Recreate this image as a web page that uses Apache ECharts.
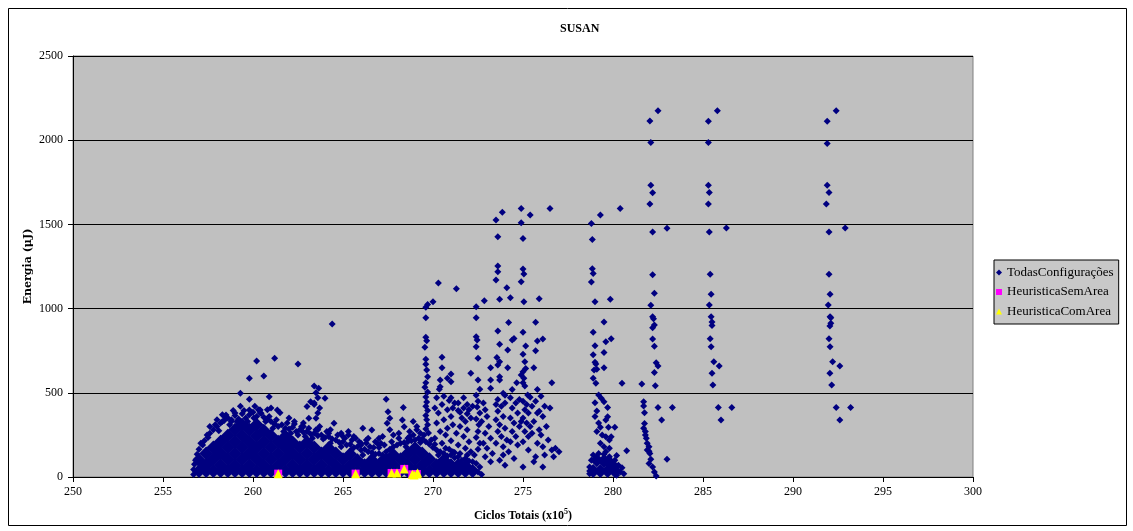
<!DOCTYPE html>
<html>
<head>
<meta charset="utf-8">
<script src="https://cdn.jsdelivr.net/npm/echarts@6/dist/echarts.min.js"></script>
<style>
html,body{margin:0;padding:0;background:#fff;}
#chart{width:1133px;height:531px;}
</style>
</head>
<body>
<div id="chart"></div>
<script>
// ---- data ----
const chartTitle = 'SUSAN';
const seriesNames = ['TodasConfigurações', 'HeuristicaSemArea', 'HeuristicaComArea'];

// dense core of the configuration cloud (drawn with larger marks)
const todasNucleo = [
[257.0,35],[257.0,100],
[257.4,35],[257.4,70],[257.4,140],
[257.8,35],[257.8,105],[257.8,175],
[258.2,35],[258.2,70],[258.2,140],[258.2,210],
[258.6,35],[258.6,105],[258.6,175],[258.6,245],
[259.0,35],[259.0,70],[259.0,140],[259.0,210],[259.0,280],
[259.4,35],[259.4,105],[259.4,175],[259.4,245],[259.4,310],
[259.8,35],[259.8,70],[259.8,140],[259.8,210],[259.8,280],
[260.2,35],[260.2,105],[260.2,175],[260.2,245],[260.2,310],
[260.6,35],[260.6,70],[260.6,140],[260.6,210],[260.6,275],
[261.0,35],[261.0,105],[261.0,175],[261.0,245],
[261.4,35],[261.4,70],[261.4,140],[261.4,210],
[261.8,35],[261.8,105],[261.8,175],[261.8,240],
[262.2,35],[262.2,70],[262.2,140],[262.2,205],
[262.6,35],[262.6,105],[262.6,175],
[263.0,35],[263.0,70],[263.0,140],[263.0,205],
[263.4,35],[263.4,105],[263.4,175],
[263.8,35],[263.8,70],[263.8,140],
[264.2,35],[264.2,105],[264.2,170],
[264.6,35],[264.6,70],[264.6,140],
[265.0,35],[265.0,105],
[265.4,35],[265.4,70],[265.4,135],
[265.8,35],[265.8,100],
[266.2,35],[266.2,70],
[266.6,35],[266.6,100],
[267.0,35],[267.0,70],
[267.4,35],[267.4,100],
[267.8,35],[267.8,70],[267.8,130],
[268.2,35],[268.2,105],
[268.6,35],[268.6,70],[268.6,140],
[269.0,35],[269.0,105],[269.0,170],
[269.4,35],[269.4,70],[269.4,140],
[269.8,35],[269.8,105],
[270.2,35],[270.2,70],
[270.6,35],[270.6,100],
[271.0,35],[271.0,70],
[271.4,35],[271.4,70],
[271.8,35],[271.8,65],
[272.2,35],
[278.9,35],[279.3,35],[279.7,35],[280.1,35],[279.1,100],[279.5,95],[279.9,75]
];

// individual configurations around the edge of the cloud
const todasBorda = [
[256.7,15],[256.7,45],[256.75,75],[256.85,105],[256.9,135],[257.0,165],[257.2,190],[257.3,215],
[257.5,235],[257.6,260],[257.8,280],[258.0,300],[258.2,320],[258.4,335],[258.6,350],[258.8,330],
[259.0,365],[259.2,345],[259.4,375],[259.6,350],[259.8,370],[260.0,385],[260.2,360],[260.4,380],
[260.6,355],[260.8,340],[261.0,330],[261.2,315],[261.4,300],[261.6,310],[261.8,290],[262.0,285],
[262.2,295],[262.4,270],[262.6,280],[262.8,265],[263.0,270],[263.2,255],[263.4,260],[263.6,245],
[263.8,250],[264.0,235],[264.2,240],[264.4,225],[264.6,220],[264.8,205],[265.0,210],[265.2,190],
[265.4,195],[265.6,175],[265.8,180],[266.0,160],[266.2,165],[266.4,150],[266.6,145],[266.8,135],
[267.0,140],[267.2,130],[267.4,150],[267.6,165],[267.8,180],[268.0,190],[268.2,200],[268.4,205],
[268.6,210],[268.8,215],[269.0,220],[269.2,230],[269.4,225],[269.6,210],[269.8,195],[270.0,175],
[270.2,160],[270.4,150],[270.6,140],[270.8,125],[271.0,130],[271.2,115],[271.4,120],[271.6,100],
[271.8,110],[272.0,95],[272.2,90],[272.4,80],[272.6,60],[272.5,30],[272.7,15],
[266.0,190],[266.5,180],[267.0,175],[267.3,190],[266.3,200],[266.8,210],[265.5,220],[265.0,240],
[264.2,260],[263.6,280],[262.8,300],[266.6,120],[267.1,105],[266.1,130],
[257.1,200],[257.45,250],[257.9,310],[258.1,275],[258.45,360],[258.7,310],[259.1,330],[259.5,395],
[259.7,330],[260.05,350],[260.3,400],[260.7,330],[260.9,360],[261.1,290],[261.3,340],[261.7,270],
[261.9,320],[262.1,260],[262.3,315],[262.5,250],[262.7,300],[262.9,240],[263.1,290],[263.3,230],
[263.5,280],[263.9,225],[264.1,270],[264.3,200],[264.7,250],[264.9,180],[265.1,230],[265.5,165],
[265.9,210],[266.4,230],[266.7,175],[267.1,200],[267.5,120],[267.7,210],[268.1,230],[268.5,180],
[268.7,240],[269.3,205],[269.5,250],[269.9,220],[270.1,195],[270.3,130],[270.7,170],[271.1,150],
[271.5,140],[271.9,130]
];

// scattered configurations, 257 - 269
const todasDispersas1 = [
[257.6,300],[258.0,340],[258.3,370],[258.5,368],[258.9,395],[259.3,420],[259.3,497],[259.8,461],
[259.8,586],[260.2,689],[260.35,398],[260.45,378],[260.6,600],[260.9,477],[261.2,705],[261.35,398],
[261.5,382],[261.0,410],[262.5,671],[262.0,350],[262.3,330],[262.8,320],[263.0,418],[263.2,447],
[263.4,430],[263.5,349],[263.1,349],[263.65,527],[264.0,467],[263.6,380],[263.7,300],[264.4,908],
[264.5,319],[264.3,280],[264.9,260],[265.3,250],[265.7,230],[266.1,289],[266.6,279],[266.3,220],
[266.9,200],[267.4,461],[267.5,388],[267.6,349],[267.45,319],[267.6,280],[267.2,240],[268.3,338],
[268.4,299],[268.35,412],[268.1,260],[268.7,270],[268.9,330],[269.1,300],[269.3,260],
[263.4,540],[263.5,500],[263.6,470],[263.4,440],[263.7,410],[258.8,340],[258.3,330],[259.0,380],
[259.8,398],[260.4,398],[260.1,420],[260.8,400],[265.6,240],[266.0,200],[265.3,270],
[267.0,230],[267.8,250],[268.9,250],[269.1,280],[268.6,230]
];

// column at ~269.6 and cloud 270 - 273
const todasDispersas2 = [
[269.6,1008],[269.7,1025],[269.6,946],[269.6,830],[269.65,809],[269.55,770],[269.6,699],[269.6,669],
[269.65,635],[269.7,596],[269.6,560],[269.55,533],[269.7,505],[269.6,475],[269.65,445],[269.6,420],
[269.7,395],[269.6,365],[269.65,340],[269.7,310],[269.6,285],[269.75,262],
[270.0,1041],[270.3,1152],[271.3,1118],[270.5,711],[270.5,649],[271.0,612],[270.8,586],[271.0,566],
[270.4,576],[270.4,536],[270.35,521],[270.6,480],[270.2,470],[270.9,455],[271.2,440],[270.5,430],
[270.1,410],[270.8,400],[271.4,395],[270.3,380],[271.0,360],[271.6,350],[270.6,340],[270.2,320],
[271.1,310],[271.5,300],[270.8,290],[271.9,280],[270.4,270],[271.3,260],[270.7,250],[271.7,240],
[270.1,230],[271.0,215],[272.0,210],[270.5,200],[271.4,190],[271.8,170],[270.9,165],[272.1,150],
[271.2,145],[272.3,130],[271.7,470],[271.9,430],[272.1,616],[272.0,400],[271.8,330],
[272.4,1011],[272.4,946],[272.4,833],[272.45,813],[272.4,774],[272.5,705],[272.5,576],[272.6,521],
[272.4,485],[272.5,450],[272.45,415],[272.6,380],[272.4,345],[272.55,310],[272.5,270],[272.4,235],
[272.6,200],[272.5,165],[272.85,1047],
[271.0,470],[271.4,440],[271.7,410],[271.1,410],[271.5,385],[271.9,375],[272.1,350],[272.2,420],
[272.8,440],[272.9,400],[273.0,360],[272.7,330],[273.1,300],[272.9,260],[273.2,230],[272.8,200],
[273.0,170],[273.3,140],[272.9,120],[273.2,90]
];

// cloud 273 - 277
const todasDispersas3 = [
[273.5,1526],[273.85,1572],[273.6,1427],[273.6,1253],[273.6,1219],[273.5,1170],[274.1,1124],[273.7,1055],
[273.6,867],[273.7,788],[273.55,709],[273.7,685],[273.6,665],[273.7,596],[273.7,576],[273.2,576],
[273.2,527],[273.2,649],[273.9,497],[274.0,485],[273.6,460],[273.5,430],[273.8,420],[273.6,390],
[273.9,360],[273.5,340],[273.7,310],[274.0,290],[273.6,270],[273.8,240],[274.1,220],[273.5,200],[273.9,180],
[274.9,1595],[275.4,1556],[274.9,1510],[275.0,1417],[275.0,1235],[275.05,1205],[274.9,1160],[275.05,1041],
[275.0,859],[275.15,778],[275.0,729],[275.1,685],[275.15,645],[275.0,625],[274.9,606],[275.05,586],
[275.0,560],[275.1,540],[275.26,487],[275.4,473],[275.0,450],[275.2,430],[275.1,400],[275.3,380],
[275.0,350],[275.2,320],[275.4,300],[275.1,270],[275.3,240],[275.0,210],
[274.3,1065],[274.2,918],[274.5,823],[274.4,813],[274.15,754],[274.15,649],[274.65,560],[274.4,520],
[274.3,470],[274.6,440],[274.4,410],[274.7,380],[274.3,350],[274.5,320],[274.8,300],[274.4,270],
[274.6,240],[274.3,210],[274.7,190],
[276.5,1595],[275.9,1059],[275.7,919],[276.1,820],[275.8,808],[275.7,750],[275.6,649],[276.6,560],
[275.8,520],[276.0,480],[275.7,450],[276.2,420],[275.9,390],[276.1,360],[275.6,330],[276.3,300],
[275.9,280],[276.0,250],[276.4,220],[275.8,200],[276.6,160],[276.2,130],[276.8,170],
[273.7,100],[274.0,70],[274.5,110],[275.0,60],[275.6,90],[276.1,60],
[274.8,460],[275.5,420],[274.0,440],[275.8,380],[274.9,330],[276.5,410],[275.5,260],[274.2,150],
[275.3,160],[276.1,180],[273.9,130],[276.7,120],[277.0,150],[275.7,120]
];

// column at ~279
const todasColuna279 = [
[278.8,1506],[279.3,1556],[280.4,1595],[278.85,1411],[278.85,1237],[278.9,1209],[278.8,1158],[279.0,1041],
[279.85,1055],[279.5,920],[278.9,859],[279.9,821],[279.6,803],[279.0,780],[279.5,740],[278.9,726],
[279.0,681],[279.05,671],[279.5,649],[278.95,635],[279.1,640],[278.9,586],[279.05,556],[280.5,556],
[279.2,487],[279.35,467],[279.5,447],[279.0,441],[279.1,392],[279.7,412],[279.7,358],[279.6,338],
[279.3,295],[279.75,295],[280.1,295],[279.6,239],[279.9,239],[279.8,220],[279.8,170],[280.76,156],
[280.2,127],[279.0,360],[279.2,320],[279.1,270],[279.4,250],[279.3,200],[279.5,180],[279.6,150],
[278.7,20],[278.7,60],[278.8,100],[278.9,130],[279.2,140],[279.5,135],[279.8,120],[280.1,100],
[280.3,70],[280.4,30],[280.2,10],[280.5,55],[280.6,20]
];

// columns at ~282, ~285.5 and ~292
const todasColuna282 = [
[282.5,2175],[282.05,2114],[282.1,1987],[282.1,1732],[282.2,1688],[282.05,1621],[282.2,1455],[283.0,1477],
[282.2,1201],[282.3,1091],[282.1,1020],[282.2,951],[282.25,940],[282.3,903],[282.2,887],[282.2,819],
[282.3,776],[282.4,679],[282.5,659],[282.3,620],[282.35,542],[282.5,412],[283.3,412],[282.7,338],[283.0,105],
[281.6,552],[281.7,447],[281.7,421],[281.75,382],[281.75,318],[281.8,249],[281.85,230],[281.9,200],
[282.0,180],[282.0,153],[282.05,140],[282.1,105],[282.4,6],[281.7,290],[281.8,270],[281.9,160],
[282.2,60],[282.3,30],[282.0,80]
];
const todasColuna285 = [
[285.8,2175],[285.3,2112],[285.3,1987],[285.3,1732],[285.35,1689],[285.3,1621],[285.35,1455],[286.3,1478],
[285.4,1204],[285.45,1085],[285.35,1021],[285.45,952],[285.5,920],[285.5,900],[285.4,821],[285.45,774],
[285.6,685],[285.9,659],[285.5,616],[285.55,546],[285.85,412],[286.6,412],[286.0,338]
];
const todasColuna292 = [
[292.4,2175],[291.9,2112],[291.9,1981],[291.9,1732],[292.0,1689],[291.85,1621],[292.0,1455],[292.9,1478],
[292.0,1204],[292.06,1085],[291.96,1021],[292.06,952],[292.1,946],[292.1,913],[292.05,897],[292.0,821],
[292.06,774],[292.2,685],[292.6,659],[292.05,616],[292.15,546],[292.4,412],[293.2,412],[292.6,338]
];

const heuristicaSemArea = [
[261.4,20],[265.7,20],[267.7,24],[268.0,24],[268.4,48],[268.85,16],[269.1,18]
];
const heuristicaComArea = [
[261.4,20],[265.7,20],[267.7,24],[268.0,24],[268.4,48],[268.85,16],[268.95,12],[269.1,18],[269.15,24]
];

// ---- chart ----
const NAVY = '#000080';
const serif = 'Liberation Serif';
const todasPontos = [].concat(todasBorda, todasDispersas1, todasDispersas2, todasDispersas3,
  todasColuna279, todasColuna282, todasColuna285, todasColuna292);

const chart = echarts.init(document.getElementById('chart'), null, {renderer: 'canvas'});
chart.setOption({
  animation: false,
  backgroundColor: '#ffffff',
  title: {
    text: chartTitle, left: 555, top: 18,
    textStyle: {fontFamily: serif, fontSize: 12, fontWeight: 'bold', color: '#000'}
  },
  graphic: [{
    type: 'rect', silent: true,
    shape: {x: 8.5, y: 8.5, width: 1118, height: 517},
    style: {fill: null, stroke: '#000', lineWidth: 1}
  }],
  legend: {
    orient: 'vertical', left: 994, top: 260,
    padding: [5, 5, 5, 2], itemGap: 4.5, itemWidth: 6, itemHeight: 6,
    backgroundColor: '#C8C8C8', borderColor: '#000', borderWidth: 1, borderRadius: 0,
    textStyle: {fontFamily: serif, fontSize: 13, color: '#000', lineHeight: 15},
    data: [
      {name: seriesNames[0], icon: 'diamond'},
      {name: seriesNames[1], icon: 'rect'},
      {name: seriesNames[2], icon: 'triangle'}
    ]
  },
  grid: {
    left: 73, right: 160, top: 56, bottom: 54, show: true,
    backgroundColor: '#C0C0C0', borderColor: '#808080', borderWidth: 1
  },
  xAxis: {
    type: 'value', min: 250, max: 300, interval: 5,
    name: '{b|Ciclos Totais (x10}{s|5}{b|)}',
    nameLocation: 'middle', nameGap: 31, nameMoveOverlap: false,
    nameTextStyle: {
      rich: {
        b: {fontFamily: serif, fontSize: 12, fontWeight: 'bold', color: '#000', lineHeight: 15},
        s: {fontFamily: serif, fontSize: 8, fontWeight: 'bold', color: '#000', lineHeight: 15, verticalAlign: 'top'}
      }
    },
    axisLine: {lineStyle: {color: '#000', width: 1}},
    axisTick: {show: true, length: 5, lineStyle: {color: '#000'}},
    axisLabel: {fontFamily: serif, fontSize: 12, color: '#000', margin: 9,
      formatter: function (v) { return String(v); }},
    splitLine: {show: false}
  },
  yAxis: {
    type: 'value', min: 0, max: 2500, interval: 500,
    name: 'Energia (μJ)', nameLocation: 'middle', nameGap: 39, nameRotate: 90, nameMoveOverlap: false,
    nameTextStyle: {fontFamily: 'DejaVu Serif', fontSize: 11, fontWeight: 'bold', color: '#000'},
    axisLine: {show: true, lineStyle: {color: '#000', width: 1}},
    axisTick: {show: true, length: 5, lineStyle: {color: '#000'}},
    axisLabel: {fontFamily: serif, fontSize: 12, color: '#000', margin: 10,
      formatter: function (v) { return String(v); }},
    splitLine: {show: true, lineStyle: {color: '#000', width: 1}}
  },
  series: [
    {
      name: seriesNames[0], type: 'scatter', data: todasNucleo,
      symbol: 'diamond', symbolSize: 14, itemStyle: {color: NAVY, opacity: 1},
      silent: true, clip: false
    },
    {
      name: seriesNames[0], type: 'scatter', data: todasPontos,
      symbol: 'diamond', symbolSize: 7, itemStyle: {color: NAVY, opacity: 1},
      silent: true, clip: false
    },
    {
      name: seriesNames[1], type: 'scatter', data: heuristicaSemArea,
      symbol: 'rect', symbolSize: 8, itemStyle: {color: '#FF00FF', opacity: 1},
      silent: true, clip: false
    },
    {
      name: seriesNames[2], type: 'scatter', data: heuristicaComArea,
      symbol: 'triangle', symbolSize: 9, itemStyle: {color: '#FFFF00', opacity: 1},
      silent: true, clip: false
    }
  ]
});
</script>
</body>
</html>
